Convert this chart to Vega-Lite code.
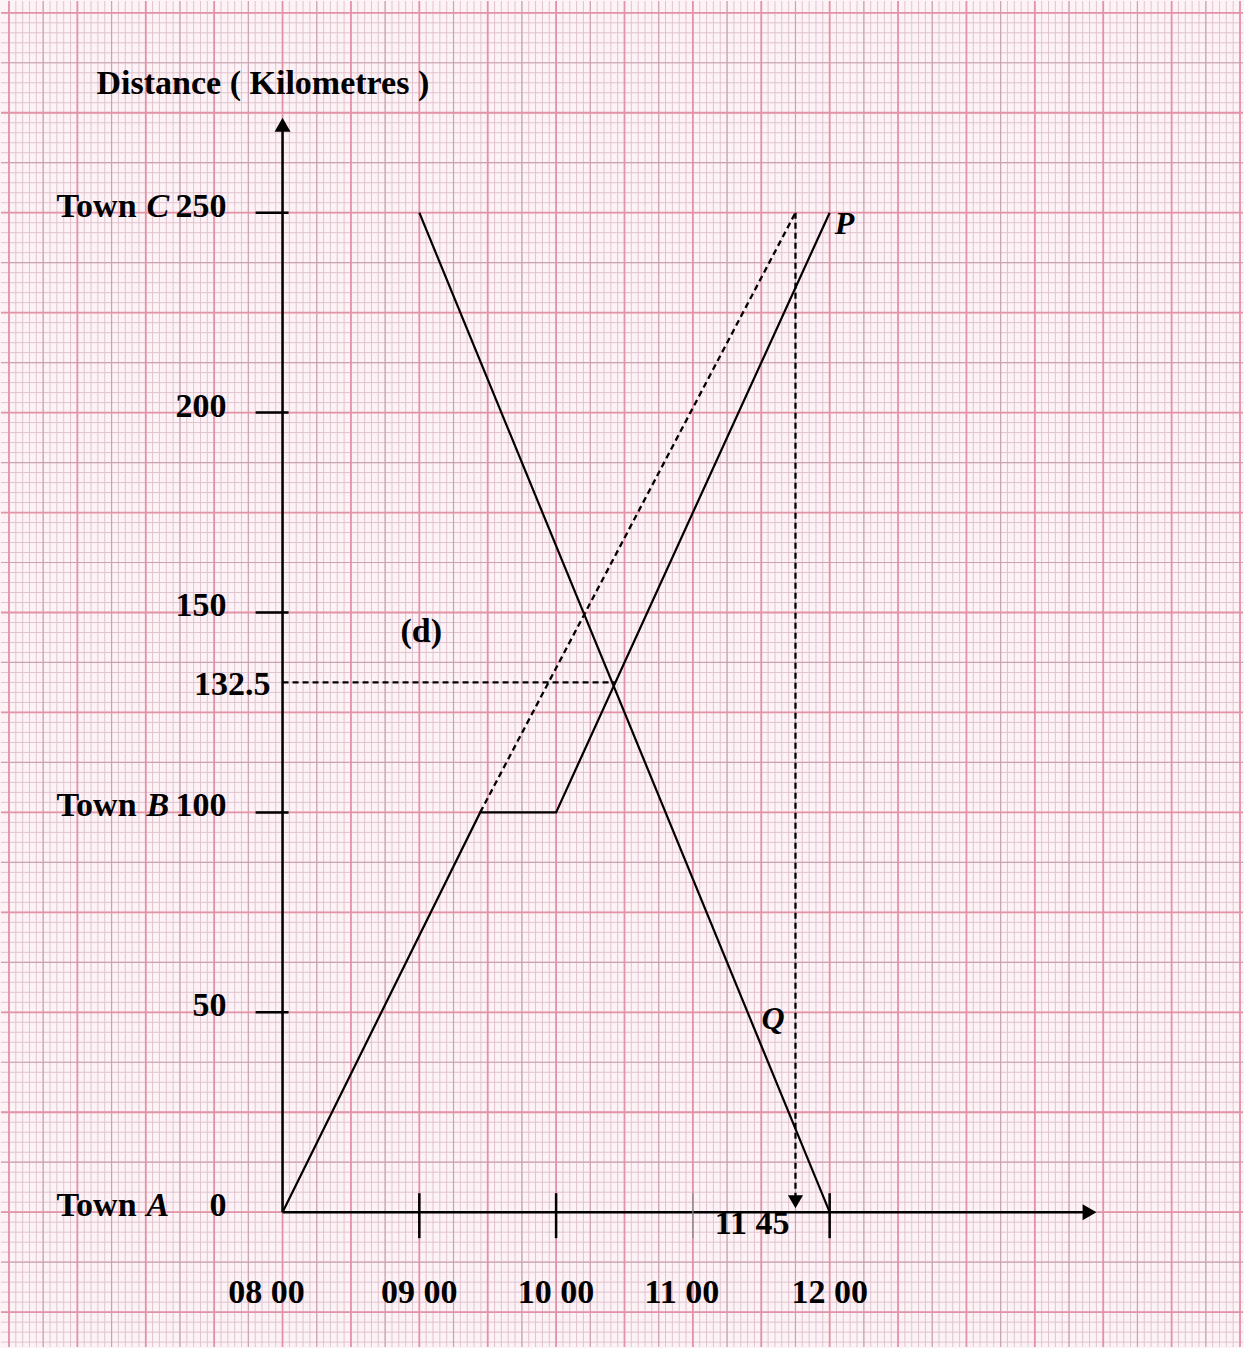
{
  "$schema": "https://vega.github.io/schema/vega-lite/v6.json",
  "width": 1244,
  "height": 1348,
  "padding": 0,
  "autosize": {"type": "fit", "contains": "padding"},
  "background": "#fdf2f5",
  "config": {"view": {"stroke": null}, "axis": {"disable": true}},
  "data": {"values": [{}]},
  "datasets": {
    "minorT": [6,6.05,6.1,6.15,6.2,6.25,6.3,6.35,6.4,6.45,6.5,6.55,6.6,6.65,6.7,6.75,6.8,6.85,6.9,6.95,
      7,7.05,7.1,7.15,7.2,7.25,7.3,7.35,7.4,7.45,7.5,7.55,7.6,7.65,7.7,7.75,7.8,7.85,7.9,7.95,
      8,8.05,8.1,8.15,8.2,8.25,8.3,8.35,8.4,8.45,8.5,8.55,8.6,8.65,8.7,8.75,8.8,8.85,8.9,8.95,
      9,9.05,9.1,9.15,9.2,9.25,9.3,9.35,9.4,9.45,9.5,9.55,9.6,9.65,9.7,9.75,9.8,9.85,9.9,9.95,
      10,10.05,10.1,10.15,10.2,10.25,10.3,10.35,10.4,10.45,10.5,10.55,10.6,10.65,10.7,10.75,10.8,10.85,10.9,10.95,
      11,11.05,11.1,11.15,11.2,11.25,11.3,11.35,11.4,11.45,11.5,11.55,11.6,11.65,11.7,11.75,11.8,11.85,11.9,11.95,
      12,12.05,12.1,12.15,12.2,12.25,12.3,12.35,12.4,12.45,12.5,12.55,12.6,12.65,12.7,12.75,12.8,12.85,12.9,12.95,
      13,13.05,13.1,13.15,13.2,13.25,13.3,13.35,13.4,13.45,13.5,13.55,13.6,13.65,13.7,13.75,13.8,13.85,13.9,13.95,
      14,14.05,14.1,14.15,14.2,14.25,14.3,14.35,14.4,14.45,14.5,14.55,14.6,14.65,14.7,14.75,14.8,14.85,14.9,14.95,
      15],
    "midT": [6.25,6.75,7.25,7.75,8.25,8.75,9.25,9.75,10.25,10.75,11.25,11.75,12.25,12.75,13.25,13.75,14.25,14.75],
    "majorT": [6,6.5,7,7.5,8,8.5,9,9.5,10,10.5,11,11.5,12,12.5,13,13.5,14,14.5,15],
    "minorKm": [-32.5,-30,-27.5,-25,-22.5,-20,-17.5,-15,-12.5,-10,-7.5,-5,-2.5,
      0,2.5,5,7.5,10,12.5,15,17.5,20,22.5,
      25,27.5,30,32.5,35,37.5,40,42.5,45,47.5,
      50,52.5,55,57.5,60,62.5,65,67.5,70,72.5,
      75,77.5,80,82.5,85,87.5,90,92.5,95,97.5,
      100,102.5,105,107.5,110,112.5,115,117.5,120,122.5,
      125,127.5,130,132.5,135,137.5,140,142.5,145,147.5,
      150,152.5,155,157.5,160,162.5,165,167.5,170,172.5,
      175,177.5,180,182.5,185,187.5,190,192.5,195,197.5,
      200,202.5,205,207.5,210,212.5,215,217.5,220,222.5,
      225,227.5,230,232.5,235,237.5,240,242.5,245,247.5,
      250,252.5,255,257.5,260,262.5,265,267.5,270,272.5,
      275,277.5,280,282.5,285,287.5,290,292.5,295,297.5,
      300],
    "midKm": [-12.5,12.5,37.5,62.5,87.5,112.5,137.5,162.5,187.5,212.5,237.5,262.5,287.5],
    "majorKm": [-25,0,25,50,75,100,125,150,175,200,225,250,275,300],
    "trips": [
      {"trip": "P", "t": 8, "km": 0},
      {"trip": "P", "t": 9.445, "km": 100},
      {"trip": "P", "t": 10, "km": 100},
      {"trip": "P", "t": 12, "km": 250},
      {"trip": "Q", "t": 9, "km": 250},
      {"trip": "Q", "t": 12, "km": 0}
    ],
    "guides": [
      {"t0": 9.445, "k0": 100, "t1": 11.75, "k1": 250},
      {"t0": 8, "k0": 132.5, "t1": 10.43, "k1": 132.5},
      {"t0": 11.75, "k0": 250, "t1": 11.75, "k1": 4}
    ],
    "kmTicks": [{"km": 50}, {"km": 100}, {"km": 150}, {"km": 200}, {"km": 250}],
    "hourTicks": [{"t": 9}, {"t": 10}, {"t": 12}],
    "kmLabels": [
      {"km": 250, "num": "250"}, {"km": 200, "num": "200"}, {"km": 150, "num": "150"},
      {"km": 100, "num": "100"}, {"km": 50, "num": "50"}, {"km": 0, "num": "0"}
    ],
    "towns": [{"km": 250, "letter": "C"}, {"km": 100, "letter": "B"}, {"km": 0, "letter": "A"}],
    "hourLabels": [{"t": 9, "lab": "09 00"}, {"t": 10, "lab": "10 00"}, {"t": 12, "lab": "12 00"}]
  },
  "layer": [
    {
      "data": {"name": "minorT"},
      "mark": {"type": "rule", "color": "#e0c4cf", "strokeWidth": 1},
      "encoding": {"x": {"field": "data", "type": "quantitative", "scale": {"domain": [5.9416, 15.0219], "nice": false, "zero": false}}}
    },
    {
      "data": {"name": "minorKm"},
      "mark": {"type": "rule", "color": "#e0c4cf", "strokeWidth": 1},
      "encoding": {"y": {"field": "data", "type": "quantitative", "scale": {"domain": [-33.72, 302.95], "nice": false, "zero": false}}}
    },
    {
      "data": {"name": "midT"},
      "mark": {"type": "rule", "color": "#cca2b3", "strokeWidth": 1.2},
      "encoding": {"x": {"field": "data", "type": "quantitative"}}
    },
    {
      "data": {"name": "midKm"},
      "mark": {"type": "rule", "color": "#cca2b3", "strokeWidth": 1.2},
      "encoding": {"y": {"field": "data", "type": "quantitative"}}
    },
    {
      "data": {"name": "majorT"},
      "mark": {"type": "rule", "color": "#e393a8", "strokeWidth": 1.8},
      "encoding": {"x": {"field": "data", "type": "quantitative"}}
    },
    {
      "data": {"name": "majorKm"},
      "mark": {"type": "rule", "color": "#e393a8", "strokeWidth": 1.8},
      "encoding": {"y": {"field": "data", "type": "quantitative"}}
    },
    {
      "data": {"name": "guides"},
      "mark": {"type": "rule", "color": "#000", "strokeWidth": 2.3, "strokeDash": [6, 4]},
      "encoding": {
        "x": {"field": "t0", "type": "quantitative"},
        "y": {"field": "k0", "type": "quantitative"},
        "x2": {"field": "t1"},
        "y2": {"field": "k1"}
      }
    },
    {
      "data": {"name": "trips"},
      "mark": {"type": "line", "color": "#000", "strokeWidth": 2.2},
      "encoding": {
        "x": {"field": "t", "type": "quantitative"},
        "y": {"field": "km", "type": "quantitative"},
        "detail": {"field": "trip"}
      }
    },
    {
      "mark": {"type": "rule", "color": "#000", "strokeWidth": 2.5},
      "encoding": {"x": {"datum": 8}, "y": {"datum": 0}, "y2": {"datum": 272}}
    },
    {
      "mark": {"type": "rule", "color": "#000", "strokeWidth": 2.5},
      "encoding": {"y": {"datum": 0}, "x": {"datum": 8}, "x2": {"datum": 13.9}}
    },
    {
      "mark": {"type": "point", "shape": "triangle-up", "filled": true, "color": "#000", "size": 256, "opacity": 1},
      "encoding": {"x": {"datum": 8}, "y": {"datum": 272}}
    },
    {
      "mark": {"type": "point", "shape": "triangle-right", "filled": true, "color": "#000", "size": 256, "opacity": 1},
      "encoding": {"x": {"datum": 13.9}, "y": {"datum": 0}}
    },
    {
      "mark": {"type": "point", "shape": "triangle-down", "filled": true, "color": "#000", "size": 230, "opacity": 1},
      "encoding": {"x": {"datum": 11.75}, "y": {"datum": 2.6}}
    },
    {
      "data": {"name": "kmTicks"},
      "mark": {"type": "rule", "color": "#000", "strokeWidth": 2.5},
      "encoding": {"y": {"field": "km", "type": "quantitative"}, "x": {"datum": 7.803}, "x2": {"datum": 8.044}}
    },
    {
      "data": {"name": "hourTicks"},
      "mark": {"type": "rule", "color": "#000", "strokeWidth": 2.5},
      "encoding": {"x": {"field": "t", "type": "quantitative"}, "y": {"datum": 4.75}, "y2": {"datum": -6.5}}
    },
    {
      "mark": {"type": "rule", "color": "#8a8a8a", "strokeWidth": 1.2},
      "encoding": {"x": {"datum": 11}, "y": {"datum": 4.75}, "y2": {"datum": -6.5}}
    },
    {
      "mark": {"type": "text", "font": "Liberation Serif", "fontWeight": "bold", "fontSize": 34, "color": "#000", "align": "left", "baseline": "alphabetic", "dx": -186, "dy": -31, "text": "Distance ( Kilometres )"},
      "encoding": {"x": {"datum": 8}, "y": {"datum": 272}}
    },
    {
      "data": {"name": "kmLabels"},
      "mark": {"type": "text", "font": "Liberation Serif", "fontWeight": "bold", "fontSize": 34, "color": "#000", "align": "right", "baseline": "alphabetic", "dx": -56, "dy": 4},
      "encoding": {"x": {"datum": 8}, "y": {"field": "km", "type": "quantitative"}, "text": {"field": "num"}}
    },
    {
      "data": {"name": "towns"},
      "mark": {"type": "text", "font": "Liberation Serif", "fontWeight": "bold", "fontSize": 34, "color": "#000", "align": "left", "baseline": "alphabetic", "dx": -226, "dy": 4, "text": "Town"},
      "encoding": {"x": {"datum": 8}, "y": {"field": "km", "type": "quantitative"}}
    },
    {
      "data": {"name": "towns"},
      "mark": {"type": "text", "font": "Liberation Serif", "fontWeight": "bold", "fontStyle": "italic", "fontSize": 34, "color": "#000", "align": "left", "baseline": "alphabetic", "dx": -136, "dy": 4},
      "encoding": {"x": {"datum": 8}, "y": {"field": "km", "type": "quantitative"}, "text": {"field": "letter"}}
    },
    {
      "mark": {"type": "text", "font": "Liberation Serif", "fontWeight": "bold", "fontSize": 34, "color": "#000", "align": "right", "baseline": "alphabetic", "dx": -12, "dy": 13, "text": "132.5"},
      "encoding": {"x": {"datum": 8}, "y": {"datum": 132.5}}
    },
    {
      "data": {"name": "hourLabels"},
      "mark": {"type": "text", "font": "Liberation Serif", "fontWeight": "bold", "fontSize": 34, "color": "#000", "align": "center", "baseline": "alphabetic", "dy": 91},
      "encoding": {"x": {"field": "t", "type": "quantitative"}, "y": {"datum": 0}, "text": {"field": "lab"}}
    },
    {
      "mark": {"type": "text", "font": "Liberation Serif", "fontWeight": "bold", "fontSize": 34, "color": "#000", "align": "center", "baseline": "alphabetic", "dx": -16, "dy": 91, "text": "08 00"},
      "encoding": {"x": {"datum": 8}, "y": {"datum": 0}}
    },
    {
      "mark": {"type": "text", "font": "Liberation Serif", "fontWeight": "bold", "fontSize": 34, "color": "#000", "align": "center", "baseline": "alphabetic", "dx": -11, "dy": 91, "text": "11 00"},
      "encoding": {"x": {"datum": 11}, "y": {"datum": 0}}
    },
    {
      "mark": {"type": "text", "font": "Liberation Serif", "fontWeight": "bold", "fontSize": 34, "color": "#000", "align": "right", "baseline": "alphabetic", "dx": -6, "dy": 22, "text": "11 45"},
      "encoding": {"x": {"datum": 11.75}, "y": {"datum": 0}}
    },
    {
      "mark": {"type": "text", "font": "Liberation Serif", "fontWeight": "bold", "fontSize": 34, "color": "#000", "align": "center", "baseline": "middle", "dx": 2, "text": "(d)"},
      "encoding": {"x": {"datum": 9}, "y": {"datum": 145}}
    },
    {
      "mark": {"type": "text", "font": "Liberation Serif", "fontWeight": "bold", "fontStyle": "italic", "fontSize": 32, "color": "#000", "align": "left", "baseline": "alphabetic", "dx": 5, "dy": 21, "text": "P"},
      "encoding": {"x": {"datum": 12}, "y": {"datum": 250}}
    },
    {
      "mark": {"type": "text", "font": "Liberation Serif", "fontWeight": "bold", "fontStyle": "italic", "fontSize": 32, "color": "#000", "align": "left", "baseline": "alphabetic", "dx": 14, "dy": 17, "text": "Q"},
      "encoding": {"x": {"datum": 11.4}, "y": {"datum": 50}}
    }
  ]
}
